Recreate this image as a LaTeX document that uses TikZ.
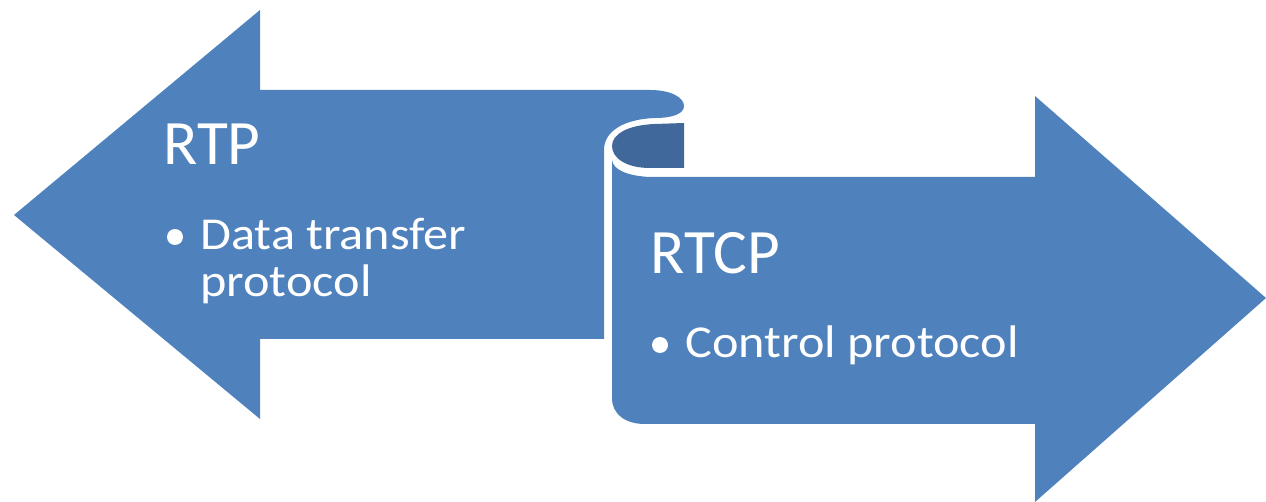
\documentclass[tikz,border=0pt]{standalone}
\usepackage{fontspec}
\setmainfont{Carlito}
\newfontfamily\itemfont[FakeStretch=1.1]{Carlito}
\definecolor{arrowblue}{HTML}{4F81BD}
\definecolor{curldark}{HTML}{41689A}
\begin{document}
\begin{tikzpicture}[x=0.02cm,y=-0.02cm,
  title/.style={text=white,inner sep=0,anchor=base west,font=\fontsize{36}{43}\selectfont},
  item/.style={text=white,inner sep=0,anchor=base west,font=\itemfont\fontsize{26}{30}\selectfont},
  dot/.style={circle,fill=white,inner sep=0,minimum size=0.32cm}]
\useasboundingbox (0,0) rectangle (1266,502);
% left arrow (RTP)
\fill[arrowblue] (14,215) -- (260,10) -- (260,90) -- (650,90)
  .. controls (672,90) and (684,98) .. (684,106)
  .. controls (684,114) and (672,118) .. (655,118)
  .. controls (626,119) and (604,130) .. (604,150)
  -- (604,339) -- (260,339) -- (260,419) -- cycle;
% right arrow (RTCP)
\fill[arrowblue] (612,160) -- (612,398)
  .. controls (612,414) and (625,424) .. (645,424)
  -- (1035,424) -- (1035,502) -- (1266,298) -- (1035,96) -- (1035,177) -- (650,177)
  .. controls (628,176) and (613,170) .. (612,160) -- cycle;
% inside of the curl
\fill[curldark] (684,123) -- (684,168) -- (650,168)
  .. controls (626,168) and (612,158) .. (612,146)
  .. controls (612,134) and (628,125) .. (655,124) -- cycle;
% texts
\node[title] (rtp) at (163,165) {RTP};
\node[dot] (b1) at (175,237) {};
\node[item] (t1) at (200,250) {Data transfer};
\node[item] (t2) at (200,297) {protocol};
\node[title] (rtcp) at (650,274) {RTCP};
\node[dot] (b2) at (660,345) {};
\node[item] (t3) at (685,358) {Control protocol};
\end{tikzpicture}
\end{document}
